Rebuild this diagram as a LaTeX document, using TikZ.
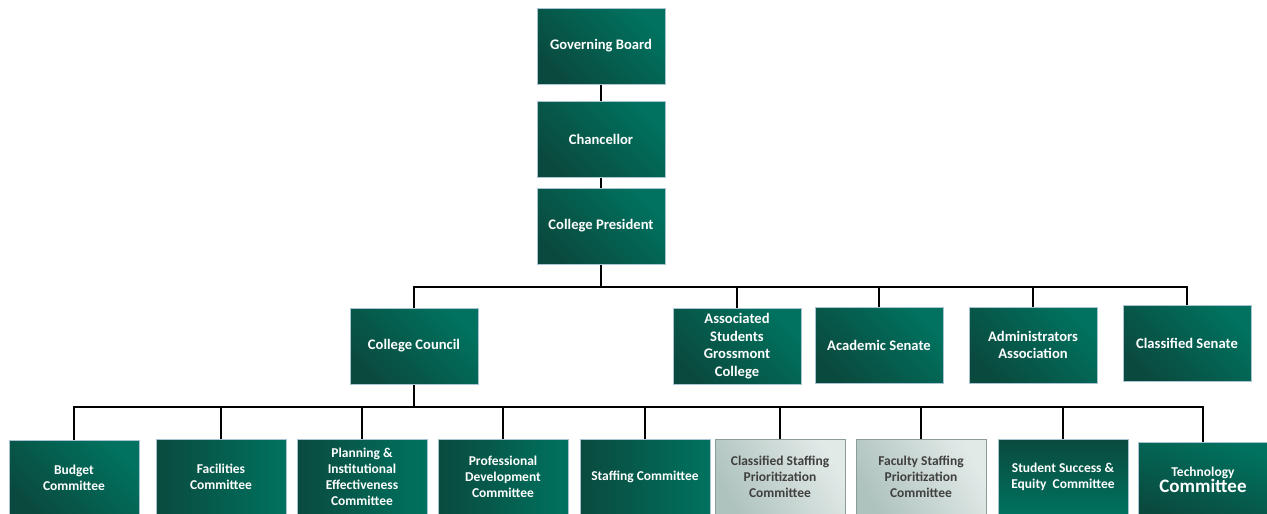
\documentclass[tikz,border=0pt]{standalone}
\usepackage{fontspec}
\setmainfont{Carlito}
\definecolor{tdark}{HTML}{0A4A3E}
\definecolor{tlight}{HTML}{00725F}
\definecolor{bordc}{HTML}{A9C3D3}
\definecolor{gdark}{HTML}{AFC3BE}
\definecolor{glight}{HTML}{E2EAE8}
\definecolor{gtext}{HTML}{404040}
\pgfdeclarelayer{bg}
\pgfsetlayers{bg,main}
\begin{document}
\begin{tikzpicture}[x=1pt,y=-1pt,
  box/.style={draw=bordc, line width=0.8pt, minimum width=128pt, minimum height=76pt,
    inner sep=2pt, align=center, text=white,
    font=\bfseries\fontsize{14.6}{17.7}\selectfont,
    top color=tlight, bottom color=tdark, shading angle=-45},
  lbox/.style={box, minimum width=130pt, font=\bfseries\fontsize{13.5}{16.1}\selectfont},
  lboxh/.style={lbox, top color=tlight, bottom color=tdark, shading angle=-90},
  gbox/.style={lbox, draw=gdark!80!black, top color=glight, bottom color=gdark, shading angle=-60, text=gtext},
  conn/.style={line width=2.8pt, black}]
\useasboundingbox (0,0) rectangle (1267,514);
% top chain
\node[box] (gb) at (601,46) {Governing Board};
\node[box] (ch) at (601,139) {Chancellor};
\node[box] (cp) at (601,226) {College President};
\coordinate (bus1) at (601,287);
% second row
\node[box] (cc) at (414,346) {College Council};
\node[box] (asg) at (737,346) {Associated\\Students\\Grossmont\\College};
\node[box] (as) at (879,345) {Academic Senate};
\node[box] (aa) at (1033,345) {Administrators\\Association};
\node[box] (cs) at (1187,343) {Classified Senate};
\coordinate (bus2) at (414,407);
% bottom row
\node[lbox] (bud) at (74,478) {Budget\\Committee};
\node[lboxh] (fac) at (221,477) {Facilities\\Committee};
\node[lboxh] (pie) at (362,477) {Planning \&\\Institutional\\Effectiveness\\Committee};
\node[lboxh] (pdc) at (503,477) {Professional\\Development\\Committee};
\node[lboxh] (stc) at (645,477) {Staffing Committee};
\node[gbox] (csp) at (780,477) {Classified Staffing\\Prioritization\\Committee};
\node[gbox] (fsp) at (921,477) {Faculty Staffing\\Prioritization\\Committee};
\node[lbox, top color=tdark, bottom color=tlight, shading angle=0] (sse) at (1063,477) {Student Success \&\\Equity\ \ Committee};
\node[lbox, minimum width=129pt, top color=tlight, bottom color=tdark, shading angle=-20] (tec) at (1203,480) {Technology\\{\fontsize{19}{20}\selectfont Committee}};
\begin{pgfonlayer}{bg}
\draw[conn] (gb) -- (ch);
\draw[conn] (ch) -- (cp);
\draw[conn] (cp) -- (bus1);
\draw[conn] (cc.north) -- (cc.north |- bus1) -- (cs.north |- bus1) -- (cs.north);
\foreach \n in {asg,as,aa} \draw[conn] (\n.north) -- (\n.north |- bus1);
\draw[conn] (cc) -- (bus2);
\draw[conn] (bud.north) -- (bud.north |- bus2) -- (tec.north |- bus2) -- (tec.north);
\foreach \n in {fac,pie,pdc,stc,csp,fsp,sse} \draw[conn] (\n.north) -- (\n.north |- bus2);
\end{pgfonlayer}
\end{tikzpicture}
\end{document}
